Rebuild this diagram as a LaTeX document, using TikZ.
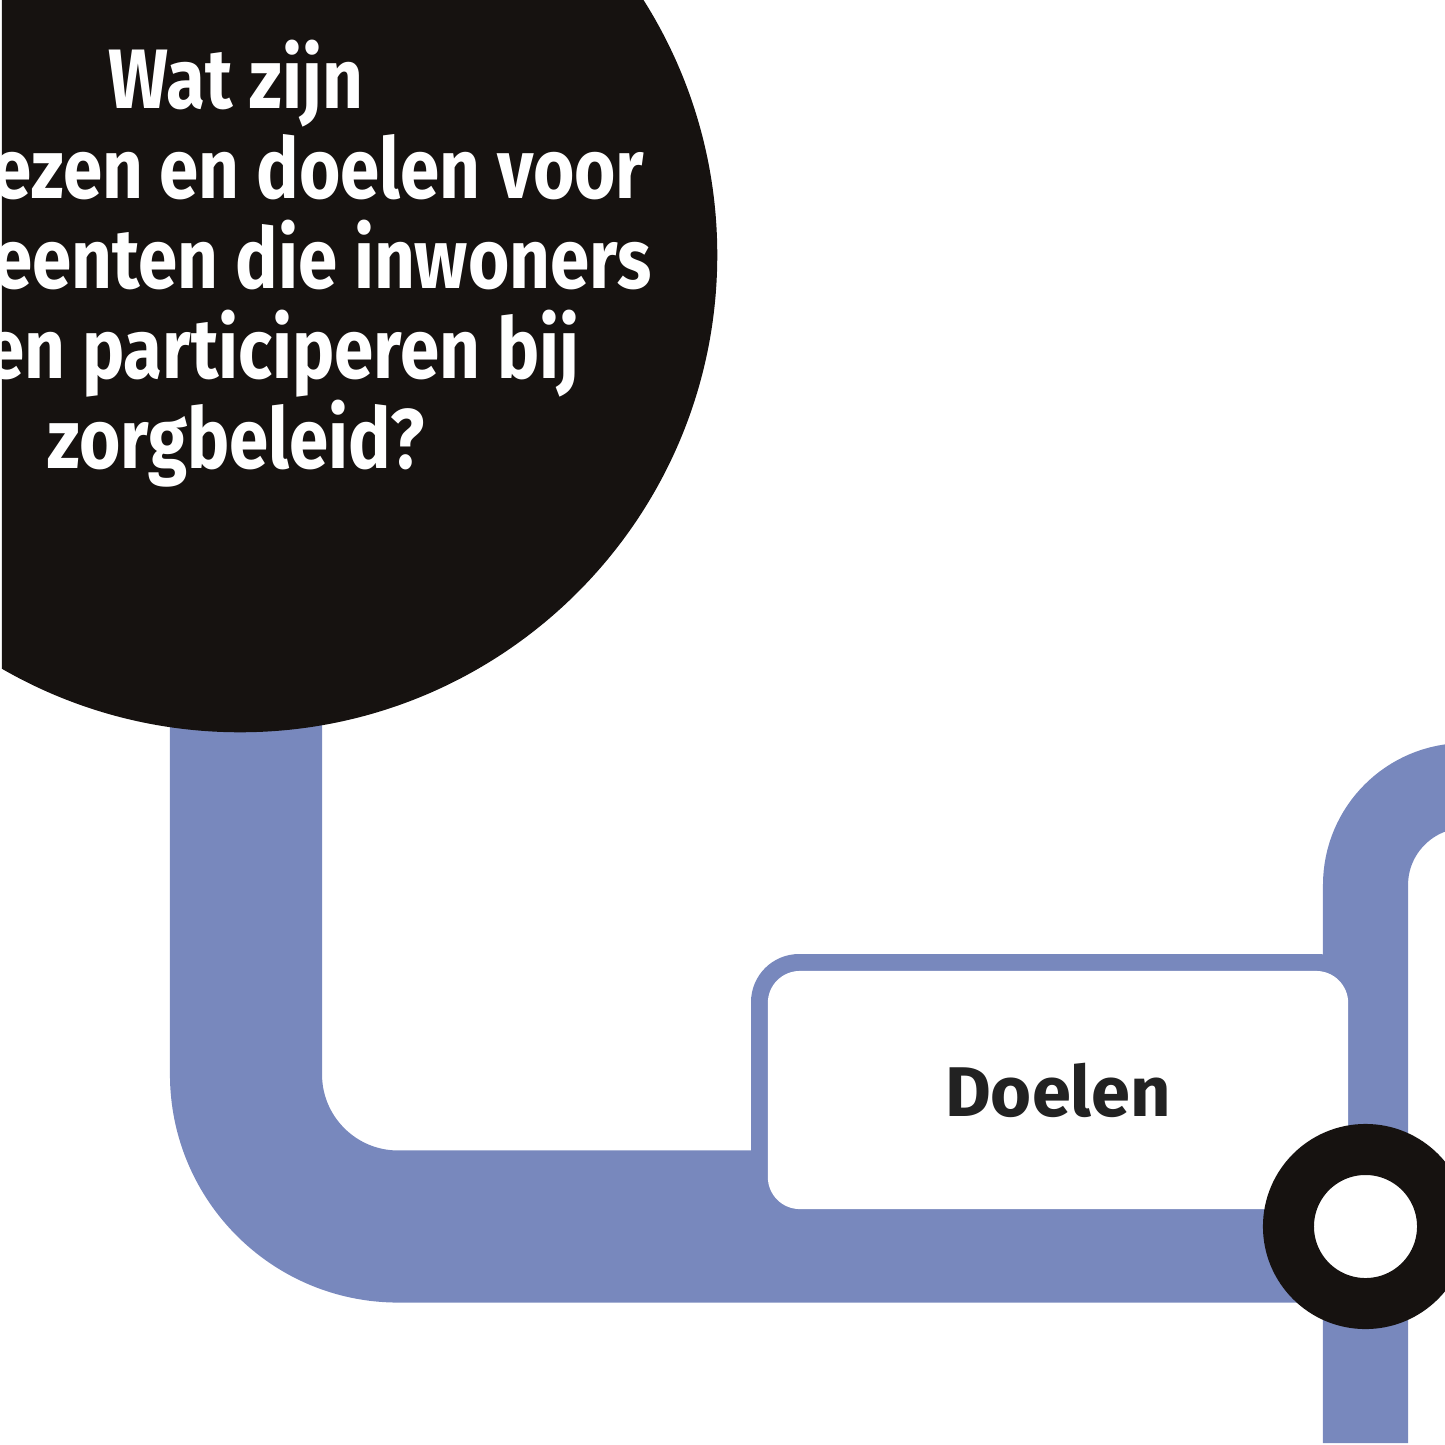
\documentclass[tikz,border=0pt]{standalone}
\usepackage{fontspec}
\setmainfont{Fira Sans}[FakeStretch=0.84]
\newfontfamily\haltefont{Fira Sans}
\definecolor{lijnblauw}{RGB}{120,136,189}
\definecolor{bolzwart}{RGB}{22,18,16}
\definecolor{tekstgrijs}{RGB}{34,34,34}
\tikzset{
  lijn/.style={draw=lijnblauw,line cap=butt},
  vraagtekst/.style={text=white,font=\bfseries\fontsize{24}{26}\selectfont,inner sep=0pt},
  halteblok/.style={fill=white,rounded corners=0.32cm,minimum width=5.8cm,minimum height=2.38cm,inner sep=0pt,
    text=tekstgrijs,font=\haltefont\bfseries\fontsize{20}{22}\selectfont},
  halterand/.style={circle,draw=bolzwart,line width=0.51cm,fill=white,minimum size=1.54cm,inner sep=0pt}
}
\begin{document}
\begin{tikzpicture}[x=0.01cm,y=-0.01cm]
	\useasboundingbox (0,0) rectangle (1445,1445);
	\clip (0,0) rectangle (1445,1445);

	%lines-------------------------------------------------
	\coordinate (boven) at (246,600); %under the question
	\coordinate (kruis) at (1365.5,1226.5); %station point
	\coordinate (onder) at (1365.5,1443); %bottom end
	\coordinate (rechtsboven) at (1600,785.5); %leaves to the right
	\draw[lijn,line width=1.52cm,rounded corners=1.52cm] (boven) |- (kruis); %thick line
	\draw[lijn,line width=0.85cm,rounded corners=0.995cm] (onder) |- (rechtsboven); %thin line

	%Doelen box---------------------------------------------
	\fill[lijnblauw,rounded corners=0.48cm] (751,954) rectangle (kruis); %blue border
	\node[halteblok] (doelen) at (1058,1090) {Doelen}; %label

	%question-----------------------------------------------
	\begin{scope}
	\clip (2,0) rectangle (1445,1445); %cut at left edge
	\node[circle,fill=bolzwart,minimum size=9.54cm,inner sep=0pt] (vraag) at (240,255) {}; %disk
	\foreach \y/\regel in {108/Wat zijn,468/zorgbeleid?}
		\node[vraagtekst,anchor=base] (regel\y) at (236,\y) {\regel};
	\node[vraagtekst,anchor=base east] (regel198) at (645,198) {ezen en doelen voor};
	\node[vraagtekst,anchor=base east] (regel288) at (652,288) {eenten die inwoners};
	\node[vraagtekst,anchor=base east] (regel378) at (580,378) {en participeren bij};
	\end{scope}

	%station------------------------------------------------
	\node[halterand] (halte) at (kruis) {}; %ring
\end{tikzpicture}
\end{document}
